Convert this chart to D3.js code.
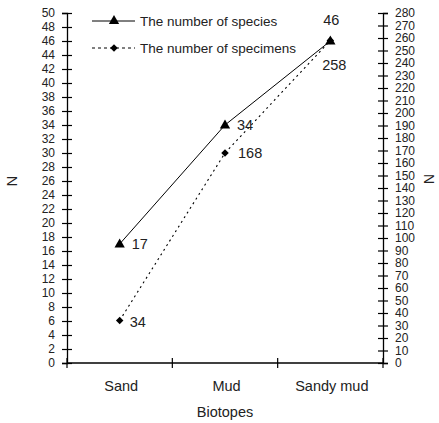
<!DOCTYPE html>
<html>
<head>
<meta charset="utf-8">
<script src="https://cdn.jsdelivr.net/npm/d3@7"></script>
<style>
	body { margin: 0; background: #fff; }
	svg { display: block; font-family: Arial, 'Liberation Sans', sans-serif; }
</style>
</head>
<body>
<svg id="chart" width="439" height="423"></svg>
<script>
// data
var biotopes  = [ 'Sand', 'Mud', 'Sandy mud' ];
var species   = [ 17, 34, 46 ];
var specimens = [ 34, 168, 258 ];
var leftTicks  = d3.range( 0, 51, 2 );
var rightTicks = d3.range( 0, 281, 10 );

var box = { left: 67, right: 383, top: 13, bottom: 363 };
var svg = d3.select( '#chart' );

var x      = d3.scaleBand().domain( biotopes ).range( [ box.left, box.right ] ).padding( 0 );
var yLeft  = d3.scaleLinear().domain( [ 0, 50 ] ).range( [ box.bottom, box.top ] );
var yRight = d3.scaleLinear().domain( [ 0, 280 ] ).range( [ box.bottom, box.top ] );
var cx     = d => x( d ) + x.bandwidth() / 2;

// axes
function crossTicks( g ) { // ticks go both ways through the axis line
	g.select( '.domain' ).attr( 'stroke-width', 1.3 );
	g.selectAll( '.tick line' ).attr( 'x1', -5 ).attr( 'x2', 5 ).attr( 'stroke-width', 1.2 );
	g.selectAll( '.tick text' ).attr( 'font-size', '12px' ).attr( 'fill', '#222' );
}
svg.append( 'g' )
	.attr( 'transform', 'translate(' + box.left + ',0)' )
	.call( d3.axisLeft( yLeft ).tickValues( leftTicks ).tickSizeOuter( 0 ).tickSize( 5 ).tickPadding( 7 ) )
	.call( crossTicks );
svg.append( 'g' )
	.attr( 'transform', 'translate(' + box.right + ',0)' )
	.call( d3.axisRight( yRight ).tickValues( rightTicks ).tickSizeOuter( 0 ).tickSize( 5 ).tickPadding( 7 ) )
	.call( crossTicks );

// bottom axis: line, ticks on the band edges, labels in the middle
svg.append( 'line' )
	.attr( 'x1', box.left ).attr( 'x2', box.right )
	.attr( 'y1', box.bottom ).attr( 'y2', box.bottom )
	.attr( 'stroke', '#000' ).attr( 'stroke-width', 1.3 );
var edges = biotopes.map( d => x( d ) ).concat( [ box.right ] );
svg.selectAll( 'line.xtick' )
	.data( edges )
	.join( 'line' )
	.attr( 'class', 'xtick' )
	.attr( 'x1', d => d ).attr( 'x2', d => d )
	.attr( 'y1', box.bottom - 5 ).attr( 'y2', box.bottom + 5 )
	.attr( 'stroke', '#000' ).attr( 'stroke-width', 1.2 );
svg.selectAll( 'text.xlabel' )
	.data( biotopes )
	.join( 'text' )
	.attr( 'class', 'xlabel' )
	.attr( 'x', d => cx( d ) + 1.5 ).attr( 'y', 391 )
	.attr( 'text-anchor', 'middle' )
	.attr( 'font-size', '14.5px' ).attr( 'fill', '#222' )
	.text( d => d );

// axis titles
svg.append( 'text' )
	.attr( 'x', ( box.left + box.right ) / 2 ).attr( 'y', 417 )
	.attr( 'text-anchor', 'middle' ).attr( 'font-size', '14.5px' ).attr( 'fill', '#222' )
	.text( 'Biotopes' );
svg.append( 'text' )
	.attr( 'transform', 'translate(17,181) rotate(-90)' )
	.attr( 'text-anchor', 'middle' ).attr( 'font-size', '15px' ).attr( 'fill', '#222' )
	.text( 'N' );
svg.append( 'text' )
	.attr( 'transform', 'translate(424,179) rotate(90)' )
	.attr( 'text-anchor', 'middle' ).attr( 'font-size', '14px' ).attr( 'fill', '#222' )
	.text( 'N' );

// lines
var lineSpecies = d3.line().x( ( d, i ) => cx( biotopes[ i ] ) ).y( d => yLeft( d ) );
var lineSpecimens = d3.line().x( ( d, i ) => cx( biotopes[ i ] ) ).y( d => yRight( d ) );
svg.append( 'path' )
	.attr( 'd', lineSpecimens( specimens ) )
	.attr( 'fill', 'none' ).attr( 'stroke', '#000' ).attr( 'stroke-width', 1.1 )
	.attr( 'stroke-dasharray', '2,3.5' );
svg.append( 'path' )
	.attr( 'd', lineSpecies( species ) )
	.attr( 'fill', 'none' ).attr( 'stroke', '#000' ).attr( 'stroke-width', 1 );

// markers
var tri  = d3.symbol().type( d3.symbolTriangle ).size( 46 );
var diam = d3.symbol().type( d3.symbolSquare ).size( 28 );
svg.selectAll( 'path.diam' )
	.data( specimens )
	.join( 'path' )
	.attr( 'class', 'diam' )
	.attr( 'd', diam )
	.attr( 'transform', ( d, i ) => 'translate(' + cx( biotopes[ i ] ) + ',' + yRight( d ) + ') rotate(45)' );
svg.selectAll( 'path.tri' )
	.data( species )
	.join( 'path' )
	.attr( 'class', 'tri' )
	.attr( 'd', tri )
	.attr( 'transform', ( d, i ) => 'translate(' + cx( biotopes[ i ] ) + ',' + ( yLeft( d ) + 0.5 ) + ')' );

// value labels
var speciesOffset   = [ [ 12, 5 ], [ 12, 5 ], [ 1, -16 ] ];
var specimensOffset = [ [ 10, 6 ], [ 13, 5 ], [ 4, 29 ] ];
svg.selectAll( 'text.vs' )
	.data( species )
	.join( 'text' )
	.attr( 'class', 'vs' )
	.attr( 'x', ( d, i ) => cx( biotopes[ i ] ) + speciesOffset[ i ][ 0 ] )
	.attr( 'y', ( d, i ) => yLeft( d ) + speciesOffset[ i ][ 1 ] )
	.attr( 'text-anchor', ( d, i ) => i == 2 ? 'middle' : 'start' )
	.attr( 'font-size', '14.5px' ).attr( 'fill', '#222' )
	.text( d => d );
svg.selectAll( 'text.vp' )
	.data( specimens )
	.join( 'text' )
	.attr( 'class', 'vp' )
	.attr( 'x', ( d, i ) => cx( biotopes[ i ] ) + specimensOffset[ i ][ 0 ] )
	.attr( 'y', ( d, i ) => yRight( d ) + specimensOffset[ i ][ 1 ] )
	.attr( 'text-anchor', ( d, i ) => i == 2 ? 'middle' : 'start' )
	.attr( 'font-size', '14.5px' ).attr( 'fill', '#222' )
	.text( d => d );

// legend
var legend = [
	  { text: 'The number of species',   dash: null,  symbol: tri,  rot: 0,  y: 21 }
	, { text: 'The number of specimens', dash: '3,3', symbol: diam, rot: 45, y: 48 }
];
var lg = svg.selectAll( 'g.legend' )
	.data( legend )
	.join( 'g' )
	.attr( 'class', 'legend' )
	.attr( 'transform', d => 'translate(0,' + d.y + ')' );
lg.append( 'line' )
	.attr( 'x1', 92 ).attr( 'x2', 135 )
	.attr( 'stroke', '#000' ).attr( 'stroke-width', 1 )
	.attr( 'stroke-dasharray', d => d.dash );
lg.append( 'path' )
	.attr( 'd', d => d.symbol() )
	.attr( 'transform', d => 'translate(114,0) rotate(' + d.rot + ')' );
lg.append( 'text' )
	.attr( 'x', 140 ).attr( 'y', 4.5 )
	.attr( 'font-size', '13.5px' ).attr( 'fill', '#222' )
	.text( d => d.text );
</script>
</body>
</html>
